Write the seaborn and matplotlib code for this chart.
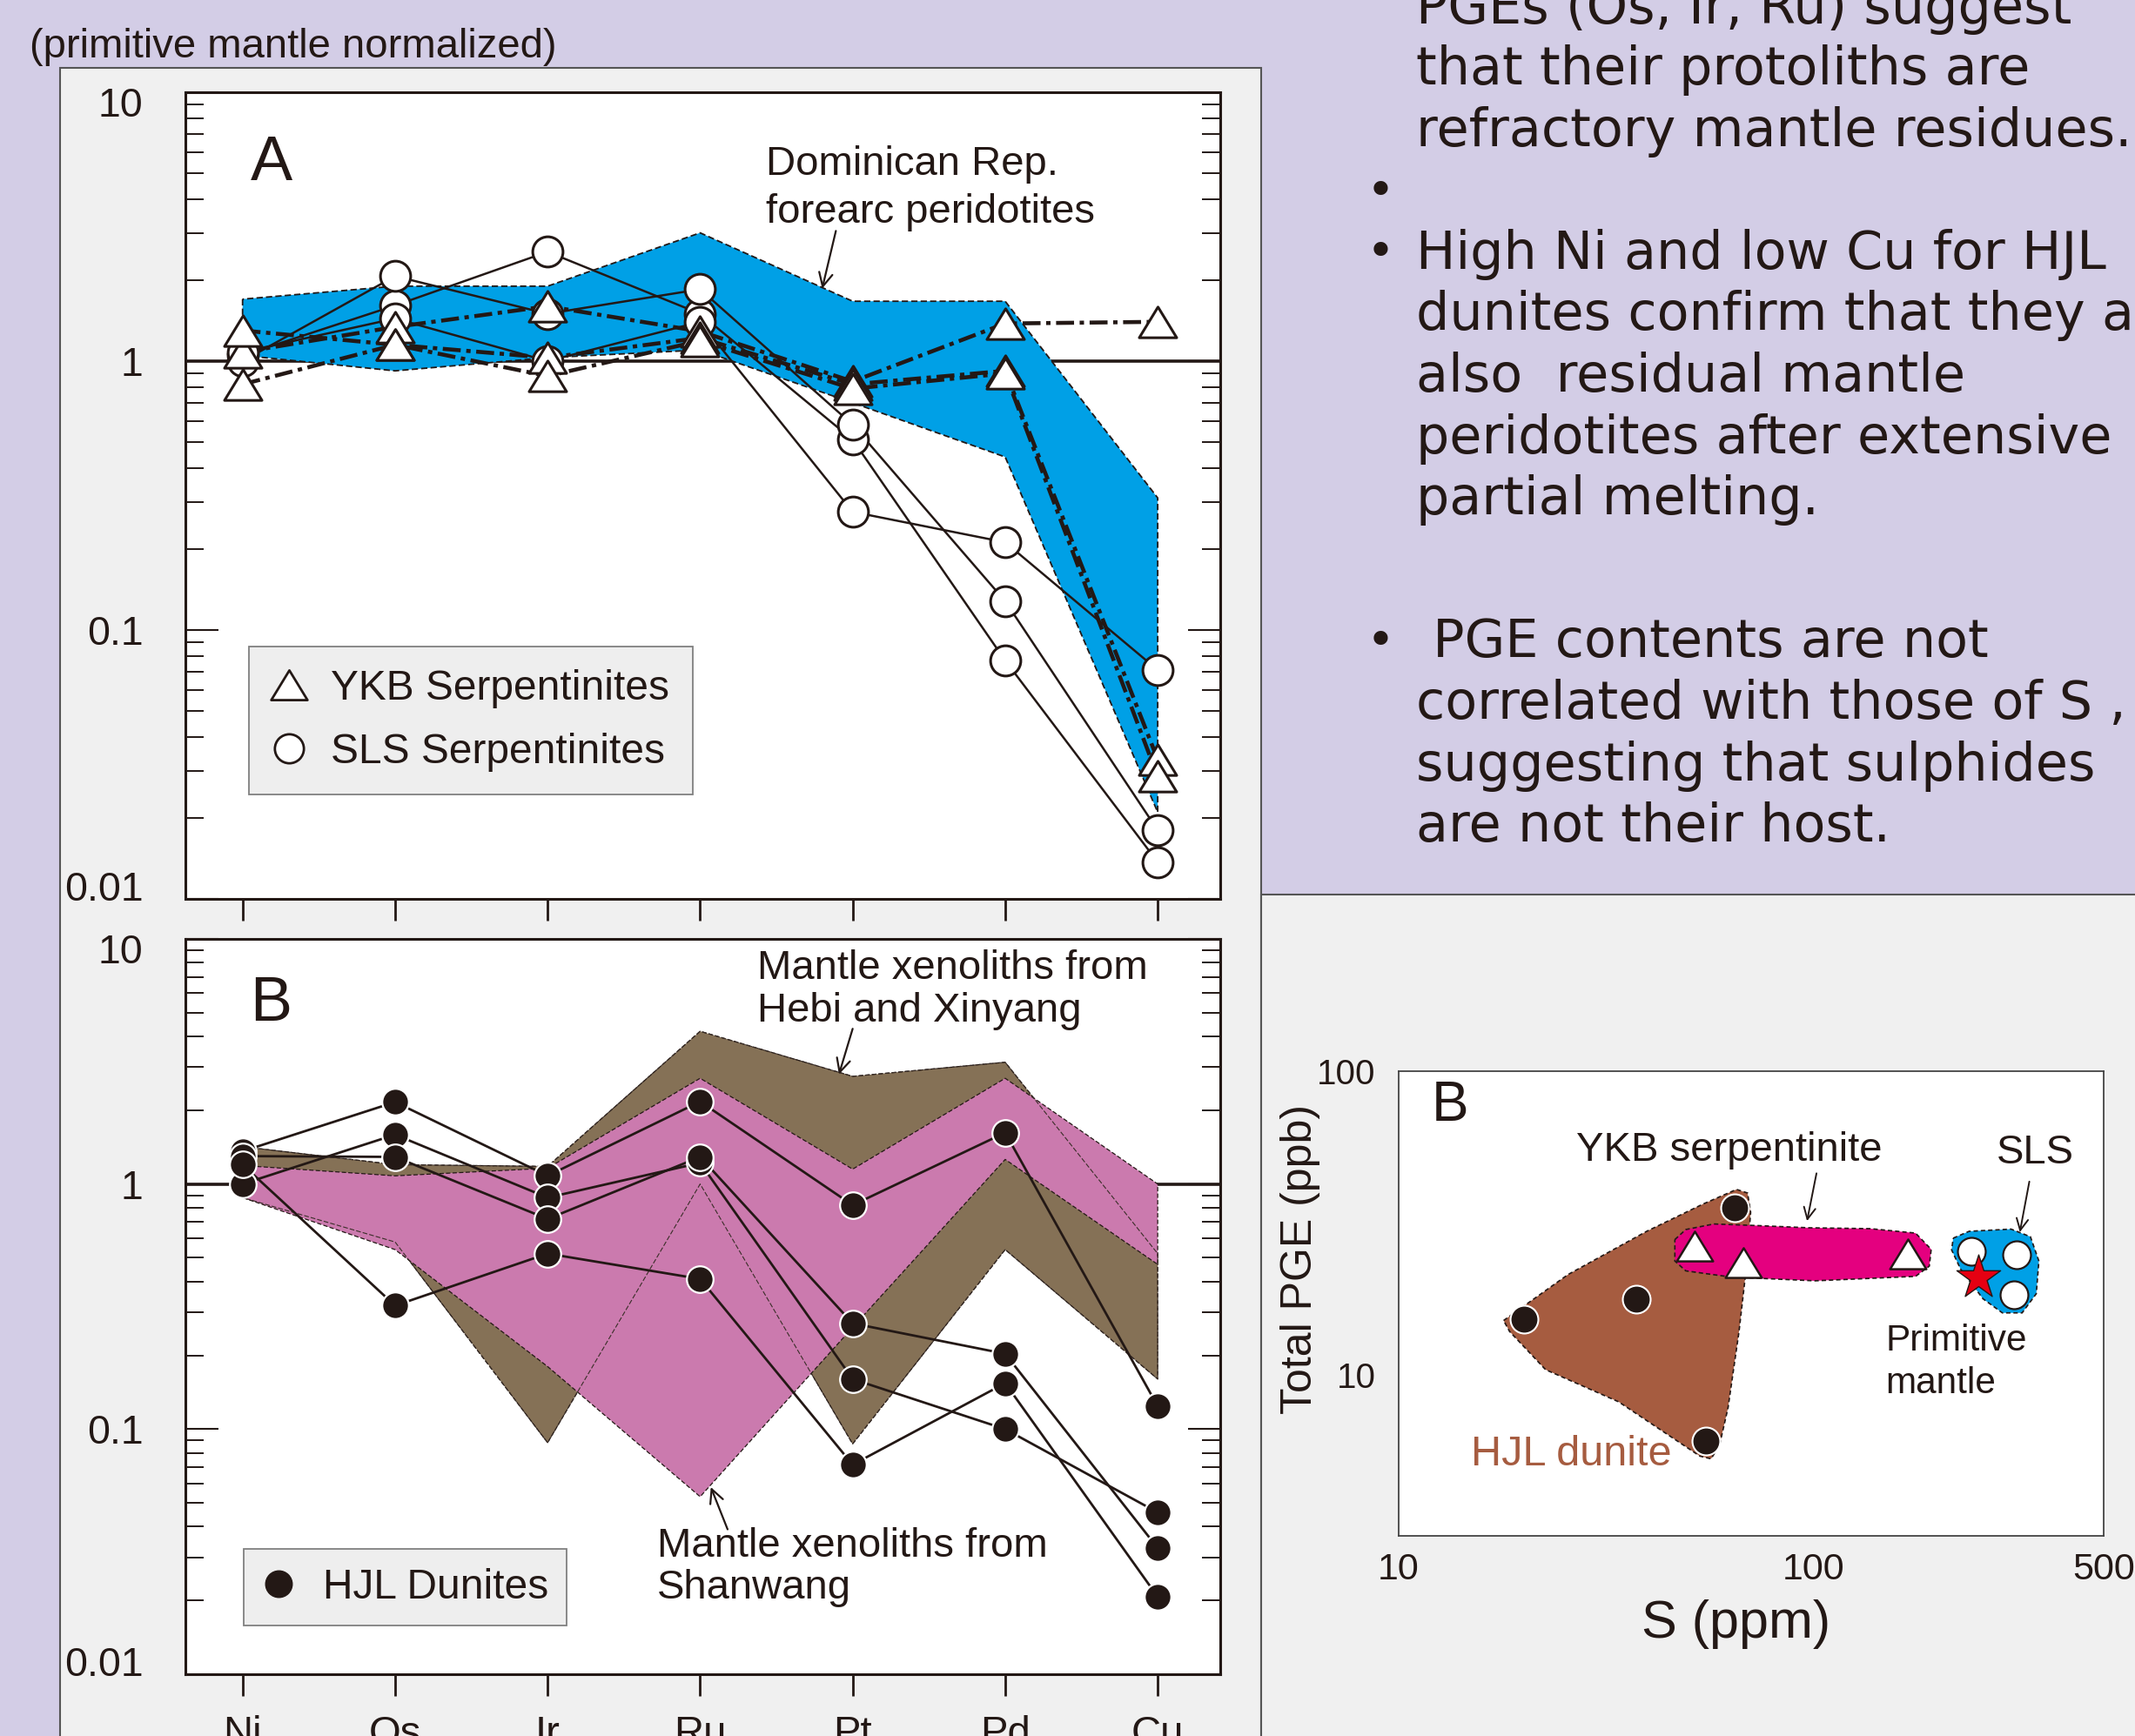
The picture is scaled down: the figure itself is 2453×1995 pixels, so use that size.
import numpy as np
import matplotlib
matplotlib.use('Agg')
import matplotlib.pyplot as plt
import seaborn as sns
from matplotlib.patches import Rectangle
from matplotlib.lines import Line2D
from matplotlib.path import Path
from matplotlib.ticker import LogLocator, NullFormatter, FixedLocator
from matplotlib.transforms import ScaledTranslation

# ---------------- data ----------------
elements = ['Ni', 'Os', 'Ir', 'Ru', 'Pt', 'Pd', 'Cu']

# panel A: Dominican Rep. forearc peridotites field
dom_upper = [1.70, 1.90, 1.90, 3.00, 1.67, 1.67, 0.31]
dom_lower = [1.05, 0.92, 1.03, 1.10, 0.70, 0.44, 0.021]

# panel A: YKB serpentinites (triangles)
ykb_1 = [1.08, 1.34, 1.60, 1.29, 0.84, 1.38, 1.40]
ykb_2 = [1.30, 1.15, 1.03, 1.22, 0.82, 0.92, 0.033]
ykb_3 = [0.82, 1.15, 0.88, 1.19, 0.79, 0.90, 0.0285]

# panel A: SLS serpentinites (circles)
sls_1 = [1.05, 1.61, 2.55, 1.50, 0.51, 0.077, 0.0137]
sls_2 = [1.00, 2.07, 1.50, 1.85, 0.58, 0.128, 0.018]
sls_3 = [1.08, 1.44, 1.00, 1.40, 0.275, 0.212, 0.071]

# panel B: mantle xenolith fields
hebi_upper = [1.42, 1.20, 1.18, 4.20, 2.75, 3.14, 0.52]
hebi_lower = [0.88, 0.58, 0.088, 1.00, 0.087, 0.54, 0.16]
shan_upper = [1.19, 1.08, 1.16, 2.70, 1.15, 2.70, 1.00]
shan_lower = [0.88, 0.54, 0.18, 0.053, 0.26, 1.26, 0.47]

# panel B: HJL dunites
hjl_1 = [1.36, 2.16, 1.08, 2.17, 0.82, 1.62, 0.124]
hjl_2 = [1.00, 1.59, 0.88, 1.22, 0.16, 0.100, 0.0457]
hjl_3 = [1.30, 1.29, 0.72, 1.29, 0.27, 0.203, 0.0327]
hjl_4 = [1.20, 0.319, 0.52, 0.41, 0.0716, 0.154, 0.0207]

# scatter: S (ppm) vs total PGE (ppb)
hjl_s = [20.0, 37.3, 64.5, 54.9]
hjl_pge = [15.3, 17.8, 35.5, 6.05]
ykb_s = [51.6, 67.8, 169.0]
ykb_pge = [26.6, 23.4, 25.0]
sls_s = [240.0, 308.0, 304.0]
sls_pge = [25.5, 24.9, 18.4]
pm_s = [250.0]
pm_pge = [21.0]

hjl_field_s = [17.9, 25.6, 39.6, 54.1, 65.2, 69.3, 70.5, 68.9, 66.1, 62.2, 59.3, 56.6, 53.2, 33.9, 22.6, 18.5]
hjl_field_pge = [15.1, 21.4, 29.7, 36.5, 40.8, 39.7, 34.3, 22.8, 13.9, 7.8, 5.86, 5.29, 5.4, 8.15, 10.4, 13.9]
ykb_field_s = [46.3, 49.2, 57.5, 73.8, 97.5, 137, 176, 192, 190, 176, 100.7, 63.1, 49.2, 46.3]
ykb_field_pge = [27.9, 30.1, 31.4, 31.0, 30.5, 30.3, 29.3, 25.9, 22.8, 21.1, 20.4, 21.0, 22.0, 23.7]
sls_field_s = [217, 237, 299, 333, 349, 344, 318, 285, 256, 226, 215]
sls_field_pge = [28.2, 29.7, 30.2, 28.5, 23.7, 18.5, 16.0, 16.0, 17.8, 22.3, 25.8]

notes_1 = ["PGEs (Os, Ir, Ru) suggest", "that their protoliths are",
           "refractory mantle residues.", "", "High Ni and low Cu for HJL",
           "dunites confirm that they are", "also  residual mantle",
           "peridotites after extensive", "partial melting."]
notes_1_bullets = [3, 4]
notes_2 = [" PGE contents are not", "correlated with those of S ,",
           "suggesting that sulphides", "are not their host."]
notes_2_bullets = [0]

# ---------------- style ----------------
sns.set_style('white')
plt.rcParams['font.family'] = ['Liberation Sans', 'DejaVu Sans']
ink = '#231815'
lavender = '#D3CDE6'
panel_gray = '#F0F0F0'
blue = '#00A0E6'
brown = '#857156'
pink = '#CB7AAE'

tri = Path([(-1, -0.82), (1, -0.82), (0, 0.82), (-1, -0.82)], closed=True)
xpos = np.arange(len(elements))

fig = plt.figure(figsize=(24.53, 19.95), dpi=100, facecolor=lavender)
fig.add_artist(Rectangle((0.0281, -0.01), 0.5626, 0.971, transform=fig.transFigure,
                         facecolor=panel_gray, edgecolor='#555555', lw=1.5, zorder=-2))
fig.add_artist(Rectangle((0.5907, -0.01), 0.42, 0.4947, transform=fig.transFigure,
                         facecolor=panel_gray, edgecolor='#555555', lw=1.5, zorder=-2))

axA = fig.add_axes([0.08683, 0.48221, 0.48471, 0.46466])
axB = fig.add_axes([0.08683, 0.03559, 0.48471, 0.42356])
axC = fig.add_axes([0.65512, 0.11529, 0.33021, 0.26767])


def spider_axes(ax, show_labels):
    ax.set_yscale('log')
    ax.set_ylim(0.01, 10)
    ax.set_xlim(-0.375, 6.41)
    ax.set_facecolor('white')
    for s in ax.spines.values():
        s.set_linewidth(2.2)
        s.set_color(ink)
    ax.set_yticks([0.01, 0.1, 1, 10], labels=['0.01', '0.1', '1', '10'])
    ax.yaxis.set_minor_locator(LogLocator(base=10, subs=np.arange(2, 10)))
    ax.yaxis.set_minor_formatter(NullFormatter())
    ax.tick_params(axis='y', which='both', direction='in', left=True, right=True,
                   labelsize=33.5, pad=35, colors=ink)
    ax.tick_params(axis='y', which='major', length=27, width=1.5)
    ax.tick_params(axis='y', which='minor', length=15, width=1.4)
    ax.set_xticks(xpos, labels=elements)
    ax.tick_params(axis='x', which='both', direction='out', length=18, width=2,
                   bottom=True, top=False, labelbottom=show_labels, labelsize=34, pad=16,
                   colors=ink)
    ax.axhline(1, color=ink, lw=2.6, zorder=0.5)
    # end labels sit just inside the frame, as in the original
    ticks = ax.yaxis.get_major_ticks()
    ticks[0].label1.set_transform(ticks[0].label1.get_transform()
                                  + ScaledTranslation(0, 0.15, fig.dpi_scale_trans))
    ticks[-1].label1.set_transform(ticks[-1].label1.get_transform()
                                   + ScaledTranslation(0, -0.11, fig.dpi_scale_trans))


def draw_series(ax, series, marker, ms, face, edge, mew, ls, lw, zl, zm):
    for vals in series:
        sns.lineplot(x=xpos, y=vals, ax=ax, color=ink, lw=lw, linestyle=ls,
                     errorbar=None, sort=False, legend=False, zorder=zl)
    for vals in series:
        sns.scatterplot(x=xpos, y=vals, ax=ax, marker=marker, s=ms ** 2, color=face,
                        edgecolor=edge, linewidth=mew, legend=False, zorder=zm)


def stacked_text(ax, x, y, lines, gap, **kw):
    for i, line in enumerate(lines):
        ax.annotate(line, xy=(x, y), xytext=(0, -i * gap), textcoords='offset points',
                    va='center', ha='left', **kw)


# ---------------- panel A ----------------
spider_axes(axA, False)
axA.fill_between(xpos, dom_lower, dom_upper, facecolor=blue, edgecolor=ink,
                 linestyle=(0, (4, 2)), lw=1.3, zorder=1)
dashdot = (0, (4.5, 1.4, 1.1, 1.4))
draw_series(axA, [sls_1, sls_2, sls_3], 'o', 25, 'white', ink, 2.2, '-', 1.8, 2, 4)
draw_series(axA, [ykb_1, ykb_2, ykb_3], tri, 31, 'white', ink, 2.2, dashdot, 3.3, 3, 5)

axA.text(0.05, 5.4, 'A', fontsize=52, va='center', ha='left', color=ink)
stacked_text(axA, 3.43, 5.4, ['Dominican Rep.', 'forearc peridotites'], 39.5,
             fontsize=34, color=ink)
axA.annotate('', xy=(3.80, 1.86), xytext=(3.89, 3.05),
             arrowprops=dict(arrowstyle='->', color=ink, lw=1.6, mutation_scale=28,
                             shrinkA=0, shrinkB=0))

hA = [Line2D([], [], ls='none', marker=tri, ms=30, mfc='white', mec=ink, mew=2),
      Line2D([], [], ls='none', marker='o', ms=24, mfc='white', mec=ink, mew=2)]
legA = axA.legend(hA, ['YKB Serpentinites', 'SLS Serpentinites'], loc='upper left',
                  bbox_to_anchor=(0.0614, 0.313), fontsize=34.5, frameon=True,
                  fancybox=False, framealpha=1, facecolor='#EEEEEE', edgecolor='#808080',
                  handlelength=0.8, handletextpad=0.62, borderpad=0.55, labelspacing=0.58,
                  borderaxespad=0)
legA.get_frame().set_linewidth(1.3)
for t in legA.get_texts():
    t.set_color(ink)
axA.set_xlabel('')
axA.set_ylabel('')

# ---------------- panel B ----------------
spider_axes(axB, True)
axB.fill_between(xpos, hebi_lower, hebi_upper, facecolor=brown, edgecolor=ink,
                 linestyle=(0, (4, 2)), lw=0.9, zorder=1)
axB.fill_between(xpos, shan_lower, shan_upper, facecolor=pink, edgecolor=ink,
                 linestyle=(0, (4, 2)), lw=0.9, zorder=1.1)
axB.fill_between(xpos, hebi_lower, hebi_upper, facecolor='none', edgecolor='#3a2e28',
                 linestyle=(0, (5, 2)), lw=0.8, zorder=1.2)
draw_series(axB, [hjl_1, hjl_2, hjl_3, hjl_4], 'o', 22, ink, 'white', 1.6, '-', 2.0, 2, 4)

axB.text(0.05, 5.4, 'B', fontsize=52, va='center', ha='left', color=ink)
stacked_text(axB, 3.375, 7.55, ['Mantle xenoliths from', 'Hebi and Xinyang'], 35,
             fontsize=34, color=ink)
axB.annotate('', xy=(3.91, 2.8), xytext=(4.0, 4.3),
             arrowprops=dict(arrowstyle='->', color=ink, lw=1.6, mutation_scale=28,
                             shrinkA=0, shrinkB=0))
stacked_text(axB, 2.72, 0.0333, ['Mantle xenoliths from', 'Shanwang'], 35,
             fontsize=34, color=ink)
axB.annotate('', xy=(3.07, 0.058), xytext=(3.18, 0.039),
             arrowprops=dict(arrowstyle='->', color=ink, lw=1.6, mutation_scale=28,
                             shrinkA=0, shrinkB=0))

hB = [Line2D([], [], ls='none', marker='o', ms=22, mfc=ink, mec=ink, mew=1)]
legB = axB.legend(hB, ['HJL Dunites'], loc='upper left', bbox_to_anchor=(0.056, 0.170),
                  fontsize=34.5, frameon=True, fancybox=False, framealpha=1,
                  facecolor='#EEEEEE', edgecolor='#808080', handlelength=0.8,
                  handletextpad=0.65, borderpad=0.45, borderaxespad=0)
legB.get_frame().set_linewidth(1.3)
for t in legB.get_texts():
    t.set_color(ink)
axB.set_xlabel('')
axB.set_ylabel('')

# ---------------- panel C (S vs total PGE) ----------------
axC.set_xscale('log')
axC.set_yscale('log')
axC.set_xlim(10, 500)
axC.set_ylim(2.95, 100)
axC.set_facecolor('white')
for s in axC.spines.values():
    s.set_linewidth(1.3)
    s.set_color('#444444')

axC.fill(hjl_field_s, hjl_field_pge, facecolor='#A65C40', edgecolor=ink,
         ls=(0, (3, 2)), lw=1.2, zorder=2)
axC.fill(ykb_field_s, ykb_field_pge, facecolor='#E4007F', edgecolor=ink,
         ls=(0, (3, 2)), lw=1.2, zorder=2)
axC.fill(sls_field_s, sls_field_pge, facecolor='#00A0E6', edgecolor=ink,
         ls=(0, (3, 2)), lw=1.2, zorder=2)

sns.scatterplot(x=hjl_s, y=hjl_pge, ax=axC, marker='o', s=23 ** 2, color=ink,
                edgecolor='white', linewidth=1.5, zorder=4, legend=False)
sns.scatterplot(x=ykb_s, y=ykb_pge, ax=axC, marker=tri, s=30 ** 2, color='white',
                edgecolor=ink, linewidth=1.8, zorder=4, legend=False)
sns.scatterplot(x=sls_s, y=sls_pge, ax=axC, marker='o', s=23 ** 2, color='white',
                edgecolor=ink, linewidth=1.6, zorder=4, legend=False)
sns.scatterplot(x=pm_s, y=pm_pge, ax=axC, marker='*', s=38 ** 2, color='#E60012',
                edgecolor=ink, linewidth=1.0, zorder=5, legend=False)

axC.set_xticks([10, 100, 500], labels=['10', '100', '500'])
axC.xaxis.set_minor_locator(FixedLocator([20, 30, 40, 50, 60, 70, 80, 90, 200, 300, 400]))
axC.xaxis.set_minor_formatter(NullFormatter())
axC.set_yticks([10, 100], labels=['10', '100'])
axC.yaxis.set_minor_locator(FixedLocator([3, 4, 5, 6, 7, 8, 9, 20, 30, 40, 50, 60, 70, 80, 90]))
axC.yaxis.set_minor_formatter(NullFormatter())
axC.tick_params(which='both', direction='in', colors='#333333', labelcolor=ink,
                top=False, right=False)
axC.tick_params(axis='x', which='major', length=14, width=1.2, labelsize=31, pad=14)
axC.tick_params(axis='y', which='major', length=14, width=1.2, labelsize=29, pad=19)
axC.tick_params(which='minor', length=8, width=1.0)

axC.set_xlabel('S (ppm)', fontsize=44, color=ink)
axC.set_ylabel('Total PGE (ppb)', fontsize=36, color=ink)
axC.xaxis.label.set_va('center')
axC.yaxis.label.set_va('center')
axC.xaxis.set_label_coords(0.479, -0.19)
axC.yaxis.set_label_coords(-0.1395, 0.596)

axC.text(12.0, 77, 'B', fontsize=46, va='center', ha='left', color=ink)
axC.text(26.8, 54.8, 'YKB serpentinite', fontsize=34, va='center', ha='left', color=ink)
axC.text(276, 53.8, 'SLS', fontsize=34, va='center', ha='left', color=ink)
stacked_text(axC, 149, 12.9, ['Primitive', 'mantle'], 35, fontsize=30.5, color=ink)
axC.text(14.9, 5.47, 'HJL dunite', fontsize=35, va='center', ha='left', color='#A65C40')
axC.annotate('', xy=(96.4, 32.1), xytext=(101.6, 46.1),
             arrowprops=dict(arrowstyle='->', color=ink, lw=1.4, mutation_scale=24,
                             shrinkA=0, shrinkB=0))
axC.annotate('', xy=(314, 29.5), xytext=(331, 43.3),
             arrowprops=dict(arrowstyle='->', color=ink, lw=1.4, mutation_scale=24,
                             shrinkA=0, shrinkB=0))

# ---------------- figure texts ----------------
fig.text(34 / 2453, 1 - 54 / 1995, '(primitive mantle normalized)', fontsize=34,
         va='center', ha='left', color=ink)

x_text = 1627 / 2453
x_bullet = 1586 / 2453
for i, line in enumerate(notes_1):
    yc = 1 - (10 + 70.6 * i) / 1995
    fig.text(x_text, yc, line, fontsize=43.5, family='DejaVu Sans', va='center',
             ha='left', color=ink)
    if i in notes_1_bullets:
        fig.text(x_bullet, yc, '\u2022', fontsize=40, family='DejaVu Sans',
                 va='center', ha='center', color=ink)
for i, line in enumerate(notes_2):
    yc = 1 - (739 + 70.6 * i) / 1995
    fig.text(x_text, yc, line, fontsize=43.5, family='DejaVu Sans', va='center',
             ha='left', color=ink)
    if i in notes_2_bullets:
        fig.text(x_bullet, yc, '\u2022', fontsize=40, family='DejaVu Sans',
                 va='center', ha='center', color=ink)

fig.savefig('out.png', dpi=100, facecolor=lavender)
